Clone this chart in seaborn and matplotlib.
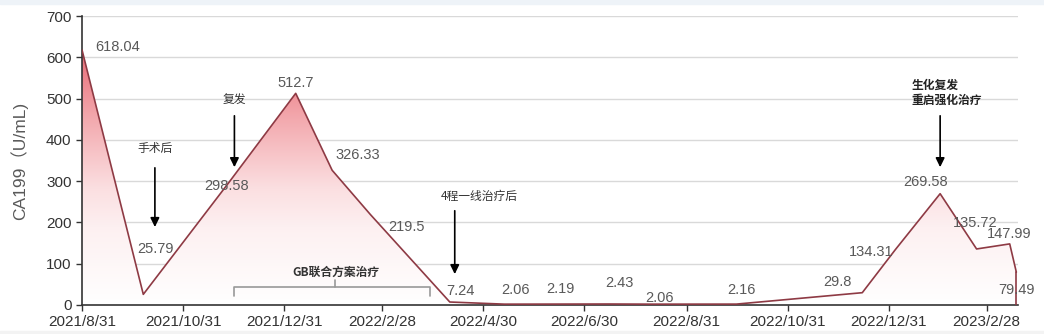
import numpy as np
import pandas as pd
import matplotlib
matplotlib.use("Agg")
import matplotlib.pyplot as plt
import matplotlib.dates as mdates
from matplotlib.colors import LinearSegmentedColormap
from matplotlib.patches import Rectangle
import seaborn as sns

# ---- data ----
dates = ["2021-08-31", "2021-10-07", "2021-11-28", "2022-01-07", "2022-01-29",
         "2022-02-21", "2022-04-10", "2022-05-13", "2022-06-09", "2022-07-15",
         "2022-08-08", "2022-09-30", "2022-12-15", "2023-01-04", "2023-01-31",
         "2023-02-22", "2023-03-14", "2023-03-18"]
values = [618.04, 25.79, 298.58, 512.7, 326.33,
          219.5, 7.24, 2.06, 2.19, 2.43,
          2.06, 2.16, 29.8, 134.31, 269.58,
          135.72, 147.99, 79.49]
value_labels = ["618.04", "25.79", "298.58", "512.7", "326.33",
                "219.5", "7.24", "2.06", "2.19", "2.43",
                "2.06", "2.16", "29.8", "134.31", "269.58",
                "135.72", "147.99", "79.49"]
tick_dates = ["2021-08-31", "2021-10-31", "2021-12-31", "2022-02-28", "2022-04-30",
              "2022-06-30", "2022-08-31", "2022-10-31", "2022-12-31", "2023-02-28"]
tick_labels = ["2021/8/31", "2021/10/31", "2021/12/31", "2022/2/28", "2022/4/30",
               "2022/6/30", "2022/8/31", "2022/10/31", "2022/12/31", "2023/2/28"]
y_ticks = [0, 100, 200, 300, 400, 500, 600, 700]
y_label = "CA199（U/mL)"

# label offsets in pixels (dx, dy)
label_offsets = [(36, 3), (12, 45), (-3, -4), (0, 10), (26, 15),
                 (36, -13), (11, 11), (11, 14), (11, 15), (11, 21),
                 (11, 6), (5, 14), (-25, 11), (-24, -2), (-15, 12),
                 (-1, 26), (-1, 10), (0, -18)]

df = pd.DataFrame({"date": pd.to_datetime(dates), "value": values})

sns.set_theme(style="white")
plt.rcParams["font.family"] = ["Noto Sans CJK SC", "DejaVu Sans"]
NUMFONT = ["Liberation Sans", "Noto Sans CJK SC"]

fig = plt.figure(figsize=(10.44, 3.34), dpi=100)
fig.patches.append(Rectangle((0, 330 / 334), 1, 4 / 334, transform=fig.transFigure,
                             color="#eef3f8", zorder=0))
fig.patches.append(Rectangle((0, 0), 1, 3 / 334, transform=fig.transFigure,
                             color="#f3f3f3", zorder=0))
ax = fig.add_axes([82 / 1044, 29 / 334, (1018 - 82) / 1044, (305 - 16) / 334])

x0 = mdates.date2num(pd.Timestamp("2021-08-31"))
x1 = mdates.date2num(pd.Timestamp("2023-03-19"))
ax.set_xlim(x0, x1)
ax.set_ylim(0, 700)

# gridlines
for yv in y_ticks[1:]:
    ax.axhline(yv, color="#d9d9d9", lw=1.0, zorder=0)

# gradient fill clipped to area
xn = mdates.date2num(df["date"])
poly = ax.fill_between(xn, df["value"], 0, color="none", lw=0)
cmap = LinearSegmentedColormap.from_list(
    "grad", [(0.0, "#ffffff"), (0.3, "#fdf0f1"), (0.45, "#fbdfe1"),
             (0.72, "#f3a9ae"), (0.9, "#ec7f88"), (1.0, "#e86d77")])
grad = np.linspace(0, 1, 256).reshape(-1, 1)
im = ax.imshow(grad, extent=[x0, x1, 0, 625], origin="lower", aspect="auto",
               cmap=cmap, zorder=1)
path = poly.get_paths()[0]
im.set_clip_path(path, transform=ax.transData)

sns.lineplot(x=xn, y=df["value"].values, ax=ax, color="#8e3a44", lw=1.2, zorder=3,
             estimator=None, sort=False)
ax.plot([xn[-1], xn[-1]], [values[-1], 0], color="#8e3a44", lw=1.2, zorder=3)

# value labels
for xv, yv, lab, (dx, dy) in zip(xn, values, value_labels, label_offsets):
    ax.annotate(lab, (xv, yv), xytext=(dx * 0.72, dy * 0.72), textcoords="offset points",
                ha="center", va="center", fontsize=10.5, color="#595959", zorder=4,
                family=NUMFONT)

# ticks
ax.set_xticks([mdates.date2num(pd.Timestamp(d)) for d in tick_dates])
ax.set_xticklabels(tick_labels)
ax.set_yticks(y_ticks)
ax.set_yticklabels([str(v) for v in y_ticks])
ax.tick_params(axis="both", direction="out", length=4, width=1, colors="#333333",
               bottom=True, left=True, labelsize=11)
for t in ax.get_xticklabels() + ax.get_yticklabels():
    t.set_color("#333333")
    t.set_family(NUMFONT)
ax.set_ylabel(y_label, fontsize=12.5, color="#595959", labelpad=13, family=NUMFONT)

for s in ["top", "right"]:
    ax.spines[s].set_visible(False)
for s in ["left", "bottom"]:
    ax.spines[s].set_color("#333333")
    ax.spines[s].set_linewidth(1.2)

# annotations
def d(s):
    return mdates.date2num(pd.Timestamp(s))

arrow_kw = dict(arrowstyle="-|>,head_width=0.22,head_length=0.45", color="black", lw=1.2)
for dt, ys, ye in [("2021-10-14", 339, 182), ("2021-12-01", 465, 327),
                   ("2022-04-13", 235, 68), ("2023-01-31", 465, 327)]:
    ax.annotate("", xy=(d(dt), ye), xytext=(d(dt), ys), arrowprops=arrow_kw, zorder=5)
ax.text(d("2021-10-14"), 380, "手术后", ha="center", va="center", fontsize=8.5, color="#333333")
ax.text(d("2021-12-01"), 496, "复发", ha="center", va="center", fontsize=8.5, color="#333333")
ax.text(d("2022-04-28"), 264, "4程一线治疗后", ha="center", va="center", fontsize=8.5, color="#333333")
ax.text(d("2023-01-14"), 513, "生化复发\n重启强化治疗", ha="left", va="center",
        fontsize=8.5, fontweight="bold", color="#222222", linespacing=1.2)

# bracket
bl, bm, br = d("2021-12-01"), d("2022-01-31"), d("2022-03-29")
bc = "#999999"
ax.plot([bl, bl, br, br], [22, 43, 43, 22], color=bc, lw=1.2, zorder=2)
ax.plot([bm, bm], [43, 60], color=bc, lw=1.2, zorder=2)
ax.text(bm, 79, "GB联合方案治疗", ha="center", va="center", fontsize=8.5,
        fontweight="bold", color="#333333")

fig.savefig("out.png", dpi=100, facecolor="white")
